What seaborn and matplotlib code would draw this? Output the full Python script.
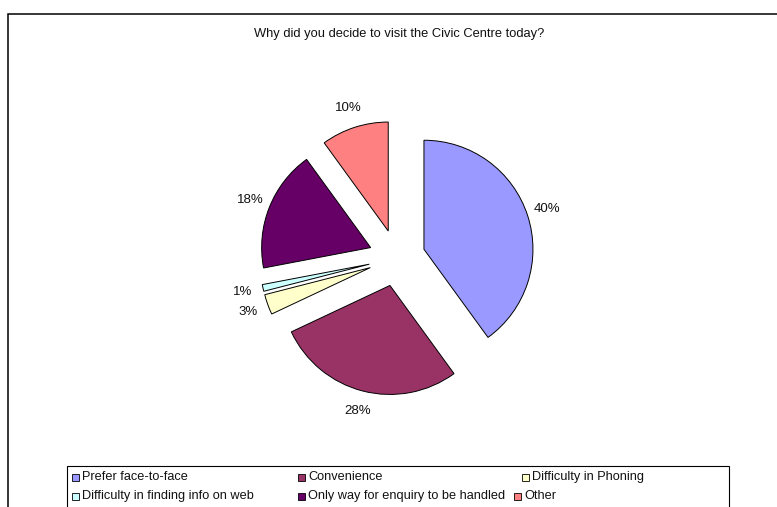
import matplotlib
matplotlib.use("Agg")
import matplotlib.pyplot as plt
from matplotlib.patches import Rectangle
import seaborn as sns

# Survey responses
categories = [
    "Prefer face-to-face",
    "Convenience",
    "Difficulty in Phoning",
    "Difficulty in finding info on web",
    "Only way for enquiry to be handled",
    "Other",
]
percentages = [40, 28, 3, 1, 18, 10]
title = "Why did you decide to visit the Civic Centre today?"

sns.set_theme(style="white")
plt.rcParams["font.family"] = ["Liberation Sans", "DejaVu Sans"]

palette = sns.color_palette(["#9999FF", "#993366", "#FFFFCC", "#CCFFFF", "#660066", "#FF8080"])

W, H = 777, 507
fig = plt.figure(figsize=(W / 100, H / 100), dpi=100)
fig.patch.set_facecolor("white")

def fx(px):
    return px / W

def fy(py):
    return 1 - py / H

# Outer chart border (runs off the right and bottom edges)
fig.patches.append(Rectangle((fx(8), -0.2), 1.5, fy(13.5) + 0.2, transform=fig.transFigure,
                             fill=False, edgecolor="black", linewidth=1.1))

fig.text(fx(399), fy(34.5), title, ha="center", va="center", fontsize=9.3, color="#111111")

# Pie axes: centre at (397, 258) px, radius 109 px
cx, cy, r = 397, 258, 109
half = 200
ax = fig.add_axes([fx(cx - half), fy(cy + half), 2 * half / W, 2 * half / H])
lim = half / r
wedges, texts = ax.pie(
    percentages,
    labels=[f"{p}%" for p in percentages],
    colors=palette,
    startangle=90,
    counterclock=False,
    explode=[0.26] * len(percentages),
    labeldistance=1.19,
    wedgeprops=dict(edgecolor="black", linewidth=0.7),
    textprops=dict(fontsize=9.5, color="#111111"),
)
for t in texts:
    t.set_ha("center")
    t.set_va("center")
ax.set_xlim(-lim, lim)
ax.set_ylim(-lim, lim)
ax.set_aspect("auto")
ax.axis("off")

# Legend box
fig.patches.append(Rectangle((fx(67), -0.2), fx(729) - fx(67), fy(465.5) + 0.2,
                             transform=fig.transFigure, fill=False,
                             edgecolor="black", linewidth=0.8))
legend_slots = [(72, 477), (298, 477), (522, 477), (72, 496), (298, 496), (514, 496)]
sq = 7
for (lx, ly), name, col in zip(legend_slots, categories, palette):
    fig.patches.append(Rectangle((fx(lx), fy(ly + sq / 2)), sq / W, sq / H,
                                 transform=fig.transFigure, facecolor=col,
                                 edgecolor="black", linewidth=0.6))
    fig.text(fx(lx + sq + 3.5), fy(ly), name, ha="left", va="center", fontsize=9.2,
             color="#111111")

fig.savefig("out.png", dpi=100, facecolor="white")
